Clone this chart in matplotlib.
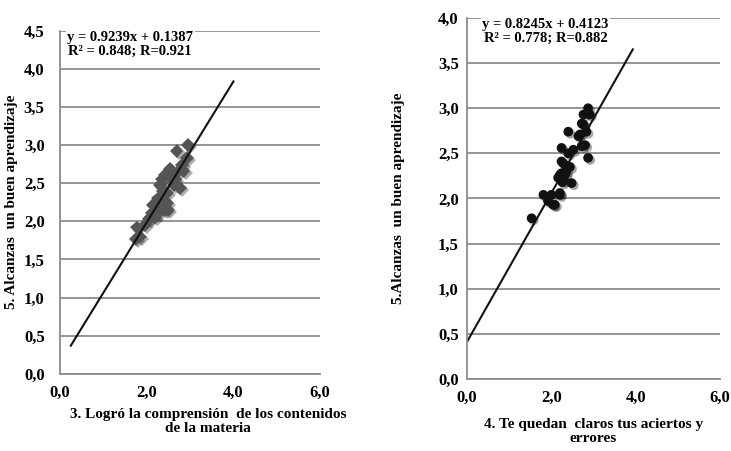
import numpy as np
import matplotlib.pyplot as plt
from matplotlib.ticker import FuncFormatter
import matplotlib.patheffects as pe

plt.rcParams['font.family'] = ['Liberation Serif', 'DejaVu Serif']
plt.rcParams['font.weight'] = 'bold'

# left panel: 3. Logró la comprensión vs 5. Alcanzas un buen aprendizaje
leftX = [1.76, 1.77, 1.85, 1.96, 2.05, 2.10, 2.12, 2.15, 2.19, 2.27, 2.30, 2.35, 2.35,
         2.42, 2.42, 2.46, 2.46, 2.50, 2.54, 2.55, 2.62, 2.66, 2.69, 2.69, 2.77, 2.81,
         2.85, 2.93, 2.96, 2.25, 2.38, 2.30, 2.60]
leftY = [1.77, 1.92, 1.80, 1.95, 2.03, 2.06, 2.11, 2.21, 2.05, 2.11, 2.18, 2.28, 2.55,
         2.61, 2.15, 2.37, 2.24, 2.15, 2.69, 2.67, 2.48, 2.55, 2.63, 2.92, 2.44, 2.74,
         2.66, 2.83, 3.00, 2.30, 2.40, 2.48, 2.55]
leftSlope, leftIntercept = 0.9239, 0.1387
leftLineX = [0.25, 4.0]
leftEq = "y = 0.9239x + 0.1387\nR² = 0.848; R=0.921"

# right panel: 4. Te quedan claros tus aciertos y errores
rightX = [1.53, 1.81, 1.92, 2.00, 2.04, 2.08, 2.20, 2.20, 2.16, 2.20, 2.24, 2.24, 2.28,
          2.24, 2.40, 2.40, 2.44, 2.48, 2.52, 2.35, 2.30, 2.64, 2.68, 2.72, 2.76, 2.80,
          2.83, 2.87, 2.87, 2.91, 2.76, 2.72, 2.33, 2.26]
rightY = [1.78, 2.04, 1.97, 2.04, 1.93, 1.93, 2.06, 2.04, 2.23, 2.26, 2.28, 2.41, 2.39,
          2.56, 2.74, 2.50, 2.35, 2.17, 2.54, 2.30, 2.20, 2.69, 2.71, 2.58, 2.82, 2.59,
          2.74, 2.45, 3.00, 2.93, 2.93, 2.83, 2.27, 2.18]
rightSlope, rightIntercept = 0.8245, 0.4123
rightLineX = [0.0, 3.93]
rightEq = "y = 0.8245x + 0.4123\nR² = 0.778; R=0.882"

commaFmt = FuncFormatter(lambda v, p: f"{v:.1f}".replace(".", ","))
shadow = [pe.SimplePatchShadow(offset=(1.5, -1.5), alpha=0.35), pe.Normal()]

fig = plt.figure(figsize=(7.31, 4.51), dpi=100)


def styleAxes(ax, ymax, ypad):
    ax.set_xlim(0, 6)
    ax.set_ylim(0, ymax)
    ax.set_xticks([0, 2, 4, 6])
    ax.set_yticks(np.arange(0, ymax + 0.01, 0.5))
    ax.xaxis.set_major_formatter(commaFmt)
    ax.yaxis.set_major_formatter(commaFmt)
    ax.grid(axis='y', color='#8c8c8c', linewidth=1.3)
    ax.set_axisbelow(True)
    for s in ['top', 'right']:
        ax.spines[s].set_visible(False)
    for s in ['left', 'bottom']:
        ax.spines[s].set_color('#8c8c8c')
        ax.spines[s].set_linewidth(1.3)
    ax.tick_params(length=0, labelsize=12)
    ax.tick_params(axis='x', pad=8)
    ax.tick_params(axis='y', pad=ypad)
    for lab in ax.get_xticklabels() + ax.get_yticklabels():
        lab.set_fontweight('bold')


ax1 = fig.add_axes([0.082, 0.171, 0.356, 0.761])
styleAxes(ax1, 4.5, 11)
ax1.plot(leftX, leftY, 'D', color='#555555', markersize=7, markeredgewidth=0,
         path_effects=shadow, clip_on=False)
lx = np.array(leftLineX)
ax1.plot(lx, leftSlope * lx + leftIntercept, color='#111111', linewidth=1.5)
ax1.text(0.27, 1.0, leftEq, transform=ax1.transAxes, ha='center', va='top',
         fontsize=10.5, fontweight='bold', linespacing=1.1,
         bbox=dict(facecolor='white', edgecolor='none', pad=1))
ax1.set_ylabel("5. Alcanzas  un buen aprendizaje", fontsize=11, fontweight='bold')
ax1.yaxis.set_label_coords(-0.162, 0.5, transform=ax1.transAxes)
ax1.set_xlabel("3. Logró la comprensión  de los contenidos\nde la materia", fontsize=11,
               fontweight='bold', linespacing=1.05)
ax1.xaxis.set_label_coords(0.568, -0.1, transform=ax1.transAxes)
ax1.xaxis.label.set_va('top')

ax2 = fig.add_axes([0.639, 0.160, 0.346, 0.800])
styleAxes(ax2, 4.0, 6)
ax2.plot(rightX, rightY, 'o', color='#111111', markersize=7, markeredgewidth=0,
         path_effects=shadow, clip_on=False)
rx = np.array(rightLineX)
ax2.plot(rx, rightSlope * rx + rightIntercept, color='#111111', linewidth=1.5)
ax2.text(0.31, 1.0, rightEq, transform=ax2.transAxes, ha='center', va='top',
         fontsize=10.5, fontweight='bold', linespacing=1.1,
         bbox=dict(facecolor='white', edgecolor='none', pad=1))
ax2.set_ylabel("5.Alcanzas  un buen aprendizaje", fontsize=11, fontweight='bold')
ax2.yaxis.set_label_coords(-0.245, 0.5, transform=ax2.transAxes)
ax2.set_xlabel("4. Te quedan  claros tus aciertos y\nerrores", fontsize=11,
               fontweight='bold', linespacing=1.1)
ax2.xaxis.set_label_coords(0.5, -0.108, transform=ax2.transAxes)
ax2.xaxis.label.set_va('top')

fig.savefig("out.png", dpi=100)
